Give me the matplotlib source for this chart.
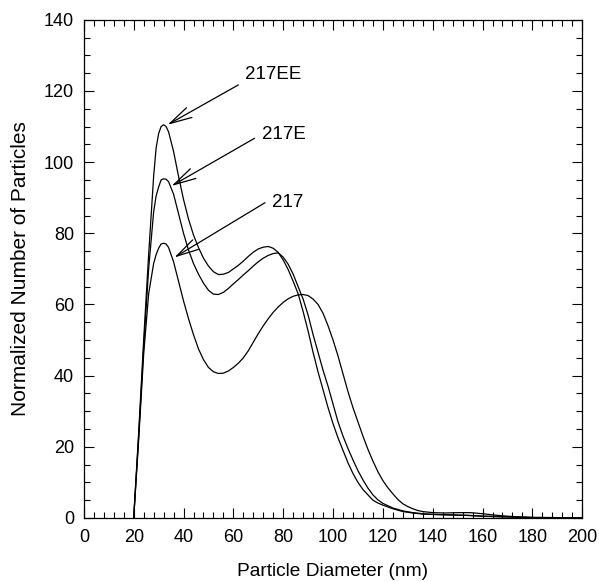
import matplotlib
matplotlib.use("Agg")
import matplotlib.pyplot as plt
from matplotlib.ticker import MultipleLocator

plt.rcParams['font.family'] = ['Liberation Sans', 'DejaVu Sans']

x_ee = [20, 22, 24, 26, 28, 29, 30, 31, 32, 33, 34, 36, 38, 40, 42, 44, 46, 48, 50, 52, 54, 56, 58, 60,
        62, 64, 66, 68, 70, 72, 74, 76, 78, 80, 82, 84, 86, 88, 90, 92, 94, 96, 98, 100, 102, 104, 106,
        108, 110, 112, 114, 116, 118, 120, 124, 128, 132, 136, 140, 145, 150, 155, 160, 165, 170, 180, 190, 200]
y_ee = [0, 24, 50, 74, 96, 104, 108, 110, 110.5, 110, 108.5, 103, 96, 89.5, 84, 79.5, 76, 73, 70.8, 69.2, 68.4,
        68.5, 69, 70, 71, 72.2, 73.5, 74.7, 75.6, 76.1, 76.3, 75.8, 74.6, 72.5, 69.8, 66.5, 63, 58, 52.5, 46.5,
        41, 36, 31, 26.5, 22.5, 19, 15.5, 12.5, 10, 8, 6.5, 5, 4.2, 3.6, 2.6, 1.8, 1.4, 1.1, 1.0, 0.9, 0.8,
        0.7, 0.5, 0.4, 0.3, 0.1, 0.05, 0]

x_e = [20, 22, 24, 26, 28, 29, 30, 31, 32, 33, 34, 36, 38, 40, 42, 44, 46, 48, 50, 52, 54, 56, 58, 60,
       62, 64, 66, 68, 70, 72, 74, 76, 78, 80, 82, 84, 86, 88, 90, 92, 94, 96, 98, 100, 102, 104, 106,
       108, 110, 112, 114, 116, 118, 120, 124, 128, 132, 136, 140, 145, 150, 155, 160, 165, 170, 180, 190, 200]
y_e = [0, 23, 48, 70, 86, 90.5, 93, 95, 95.3, 95.2, 94.5, 91, 85.5, 80, 75.3, 71.5, 68.5, 66, 64, 62.9, 62.8,
       63.4, 64.5, 65.8, 67, 68.3, 69.5, 70.8, 72, 73, 73.8, 74.3, 74.5, 73.3, 71.3, 68.5, 65, 61.5, 57, 51.5,
       46.5, 41.5, 37, 32, 27, 23, 19.5, 16.3, 13.3, 10.7, 8.4, 6.5, 5.1, 4.1, 2.8, 2, 1.5, 1.2, 1.0, 0.9,
       0.8, 0.7, 0.5, 0.4, 0.3, 0.1, 0.05, 0]

x_217 = [20, 22, 24, 26, 28, 29, 30, 31, 32, 33, 34, 36, 38, 40, 42, 44, 46, 48, 50, 52, 54, 56, 58, 60,
         62, 64, 66, 68, 70, 72, 74, 76, 78, 80, 82, 84, 86, 88, 90, 92, 94, 96, 98, 100, 102, 104, 106,
         108, 110, 112, 114, 116, 118, 120, 122, 124, 126, 128, 130, 132, 134, 136, 140, 145, 150, 155, 160,
         165, 170, 175, 180, 190, 200]
y_217 = [0, 22, 46, 63, 71.5, 74, 75.8, 77, 77.2, 77, 76, 72, 66.5, 61, 56, 51.5, 47.5, 44.5, 42.3, 41.1, 40.6,
         40.7, 41.3, 42.3, 43.5, 45, 47, 49.4, 51.8, 54, 56, 57.8, 59.3, 60.6, 61.6, 62.3, 62.7, 62.8, 62.5,
         61.5, 60, 57.5, 54, 50, 45.5, 40.5, 35.5, 31, 27, 23, 19.3, 16, 13, 10.5, 8.5, 6.8, 5.2, 4, 3.2, 2.6,
         2.1, 1.8, 1.5, 1.4, 1.5, 1.5, 1.2, 0.8, 0.5, 0.3, 0.2, 0.1, 0]

labels = ["217EE", "217E", "217"]
label_xy = [(64.7, 124.5), (71.5, 107.7), (75.5, 88.6)]
arrow_tail = [(62.0, 121.7), (68.5, 106.7), (72.7, 88.6)]
arrow_head = [(33.6, 110.5), (35.2, 93.3), (36.3, 73.2)]

fig = plt.figure(figsize=(5.99, 5.82), dpi=100)
ax = fig.add_axes([0.140, 0.110, 0.832, 0.856])

for xs, ys in [(x_ee, y_ee), (x_e, y_e), (x_217, y_217)]:
    ax.plot(xs, ys, color='black', linewidth=0.9)

for lab, txy, tail, head in zip(labels, label_xy, arrow_tail, arrow_head):
    ax.text(txy[0], txy[1], lab, fontsize=13.5, va='center', ha='left')
    ax.annotate('', xy=head, xytext=tail,
                arrowprops=dict(arrowstyle='->,head_length=1.6,head_width=0.4',
                                mutation_scale=10,
                                color='black', linewidth=0.9, shrinkA=0, shrinkB=0))

ax.set_xlim(0, 200)
ax.set_ylim(0, 140)
ax.xaxis.set_major_locator(MultipleLocator(20))
ax.xaxis.set_minor_locator(MultipleLocator(4))
ax.yaxis.set_major_locator(MultipleLocator(20))
ax.yaxis.set_minor_locator(MultipleLocator(5))
ax.tick_params(which='both', direction='in', top=True, right=True, labelsize=13, width=0.8)
ax.tick_params(axis='x', which='major', pad=8)
ax.tick_params(axis='y', which='major', pad=7)
ax.tick_params(which='major', length=7)
ax.tick_params(which='minor', length=4)
for sp in ax.spines.values():
    sp.set_linewidth(0.9)

ax.set_xlabel('Particle Diameter (nm)', fontsize=13.8, labelpad=12)
ax.set_ylabel('Normalized Number of Particles', fontsize=15, labelpad=10)

fig.savefig('out.png', dpi=100)
